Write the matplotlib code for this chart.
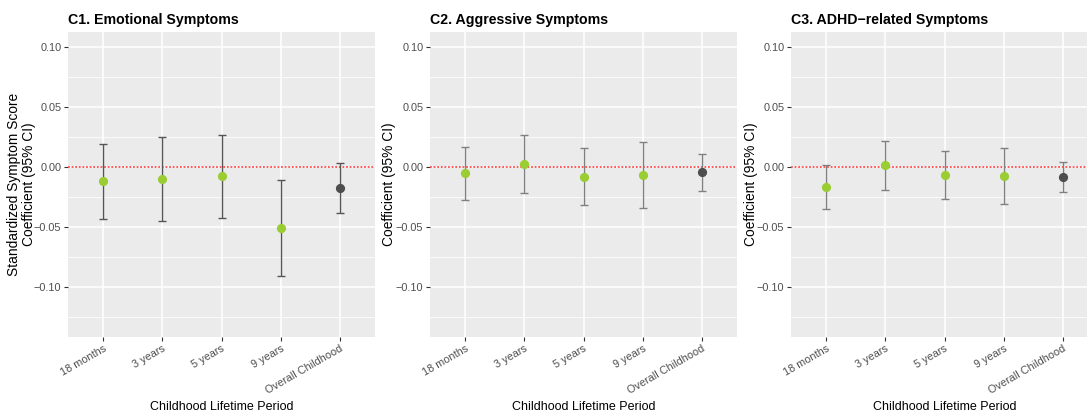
"""
Coefficient plots (95% CI) of childhood symptom scores by lifetime period.
"""

import matplotlib
matplotlib.use('Agg')
import matplotlib.pyplot as plt
from matplotlib.ticker import MultipleLocator

plt.rcParams['font.family'] = ['Liberation Sans', 'DejaVu Sans']

periods = ['18 months', '3 years', '5 years', '9 years', 'Overall Childhood']

titles = ['C1. Emotional Symptoms', 'C2. Aggressive Symptoms', 'C3. ADHD\u2212related Symptoms']
ylabels = ['Standardized Symptom Score\nCoefficient (95% CI)', 'Coefficient (95% CI)', 'Coefficient (95% CI)']

emo_est = [-0.0119, -0.0102, -0.0078, -0.0507, -0.0177]
emo_lo = [-0.0432, -0.0449, -0.0421, -0.0903, -0.0385]
emo_hi = [0.0194, 0.0249, 0.0266, -0.0111, 0.0036]

agg_est = [-0.0050, 0.0025, -0.0080, -0.0069, -0.0044]
agg_lo = [-0.0271, -0.0216, -0.0319, -0.0343, -0.0197]
agg_hi = [0.0169, 0.0269, 0.0160, 0.0208, 0.0108]

adhd_est = [-0.0166, 0.0014, -0.0064, -0.0078, -0.0083]
adhd_lo = [-0.0349, -0.0188, -0.0263, -0.0305, -0.0205]
adhd_hi = [0.0019, 0.0216, 0.0136, 0.0155, 0.0044]

panels = [(emo_est, emo_lo, emo_hi, '#555555'),
          (agg_est, agg_lo, agg_hi, '#808080'),
          (adhd_est, adhd_lo, adhd_hi, '#808080')]

W, H = 1087, 415
fig = plt.figure(figsize=(W / 100, H / 100), dpi=100)

lefts = [68, 430, 791]
ylab_x = [21.5, 389, 751]
pw, top, bottom = 307, 32, 337

for i, (est, lo, hi, bar_col) in enumerate(panels):
    ax = fig.add_axes([lefts[i] / W, (H - bottom) / H, pw / W, (bottom - top) / H])
    ax.set_facecolor('#EBEBEB')
    for s in ax.spines.values():
        s.set_visible(False)

    x = list(range(len(periods)))
    ax.set_xlim(-0.6, len(periods) - 0.4)
    ax.set_ylim(-0.1413, 0.1122)
    ax.yaxis.set_major_locator(MultipleLocator(0.05))
    ax.yaxis.set_minor_locator(MultipleLocator(0.025))
    ax.grid(True, which='major', color='white', linewidth=1.1)
    ax.grid(True, which='minor', axis='y', color='white', linewidth=0.55)
    ax.set_axisbelow(True)

    ax.axhline(0, color='#ff4d4d', linestyle=(0, (1, 1)), linewidth=1.3, zorder=1)

    for j in x:
        ax.errorbar(j, est[j], yerr=[[est[j] - lo[j]], [hi[j] - est[j]]],
                    fmt='none', ecolor=bar_col, elinewidth=1.0, capsize=2.6,
                    capthick=1.0, zorder=2)
        col = '#4D4D4D' if periods[j] == 'Overall Childhood' else '#9ACD32'
        ax.plot(j, est[j], 'o', color=col, markersize=5.6, zorder=3)

    ax.set_xticks(x)
    ax.set_xticklabels(periods, rotation=30, ha='right', rotation_mode='anchor')
    ax.set_yticks([-0.10, -0.05, 0.00, 0.05, 0.10])
    ax.set_yticklabels(['\u22120.10', '\u22120.05', '0.00', '0.05', '0.10'])
    ax.tick_params(axis='both', which='major', colors='#333333', labelcolor='#4D4D4D',
                   labelsize=7.8, length=2.8, width=0.8, pad=2)
    ax.tick_params(axis='y', which='minor', length=0)

    ax.set_title(titles[i], loc='left', fontsize=10.2, fontweight='bold', pad=6)
    ax.set_xlabel('Childhood Lifetime Period', fontsize=9)
    ax.xaxis.set_label_coords(0.5, -(407 - bottom) / (bottom - top), transform=ax.transAxes)
    ax.xaxis.label.set_verticalalignment('center')
    ax.set_ylabel(ylabels[i], fontsize=9.9, linespacing=1.05, va='center')
    ax.yaxis.set_label_coords(ylab_x[i] / W, (H - (top + bottom) / 2) / H, transform=fig.transFigure)

fig.savefig('out.png', dpi=100)
